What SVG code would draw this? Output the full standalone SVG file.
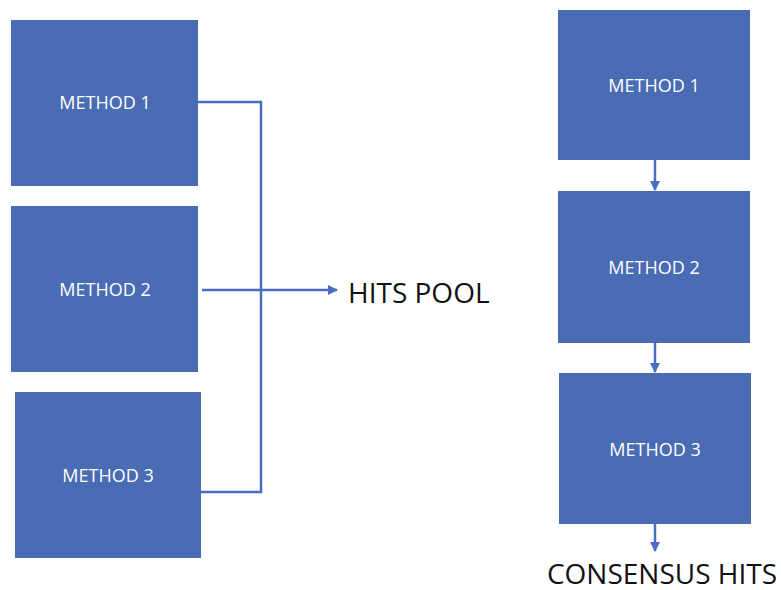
<svg xmlns="http://www.w3.org/2000/svg" width="781" height="590" viewBox="0 0 781 590">
<style>
.box{fill:#4a6cb4;}
.lbl{fill:#ffffff;font-family:"Open Sans","Liberation Sans",sans-serif;font-size:18px;text-anchor:middle;}
.big{fill:#111111;font-family:"Open Sans","Liberation Sans",sans-serif;}
.ln{stroke:#4a6cc4;stroke-width:2.5;fill:none;}
</style>
<defs>
<marker id="ah" viewBox="0 0 10 10" refX="9" refY="5" markerWidth="4" markerHeight="4" orient="auto" markerUnits="strokeWidth">
<path d="M0,0 L10,5 L0,10 z" fill="#4a6cc4"/>
</marker>
</defs>
<rect width="781" height="590" fill="#ffffff"/>
<g id="m1l"><rect class="box" x="11" y="20" width="187" height="166"/><text class="lbl" x="105" y="109">METHOD 1</text></g>
<g id="m2l"><rect class="box" x="11" y="206" width="187" height="166"/><text class="lbl" x="105" y="296">METHOD 2</text></g>
<g id="m3l"><rect class="box" x="15" y="392" width="186" height="166"/><text class="lbl" x="108" y="482">METHOD 3</text></g>
<g id="pool"><text class="big" x="348" y="303" font-size="28">HITS POOL</text></g>
<g id="m1r"><rect class="box" x="558" y="10" width="192" height="150"/><text class="lbl" x="654" y="92">METHOD 1</text></g>
<g id="m2r"><rect class="box" x="558" y="191" width="192" height="152"/><text class="lbl" x="654" y="274">METHOD 2</text></g>
<g id="m3r"><rect class="box" x="559" y="373" width="192" height="151"/><text class="lbl" x="655" y="456">METHOD 3</text></g>
<g id="cons"><text class="big" x="662" y="584" font-size="28" text-anchor="middle">CONSENSUS HITS</text></g>
<g id="connectors">
<path class="ln" d="M198,102 H261 V492 H201"/>
<path class="ln" d="M202,290 H337" marker-end="url(#ah)"/>
<path class="ln" d="M655,160 V190" marker-end="url(#ah)"/>
<path class="ln" d="M655,343 V372" marker-end="url(#ah)"/>
<path class="ln" d="M655,524 V551" marker-end="url(#ah)"/>
</g>
</svg>
